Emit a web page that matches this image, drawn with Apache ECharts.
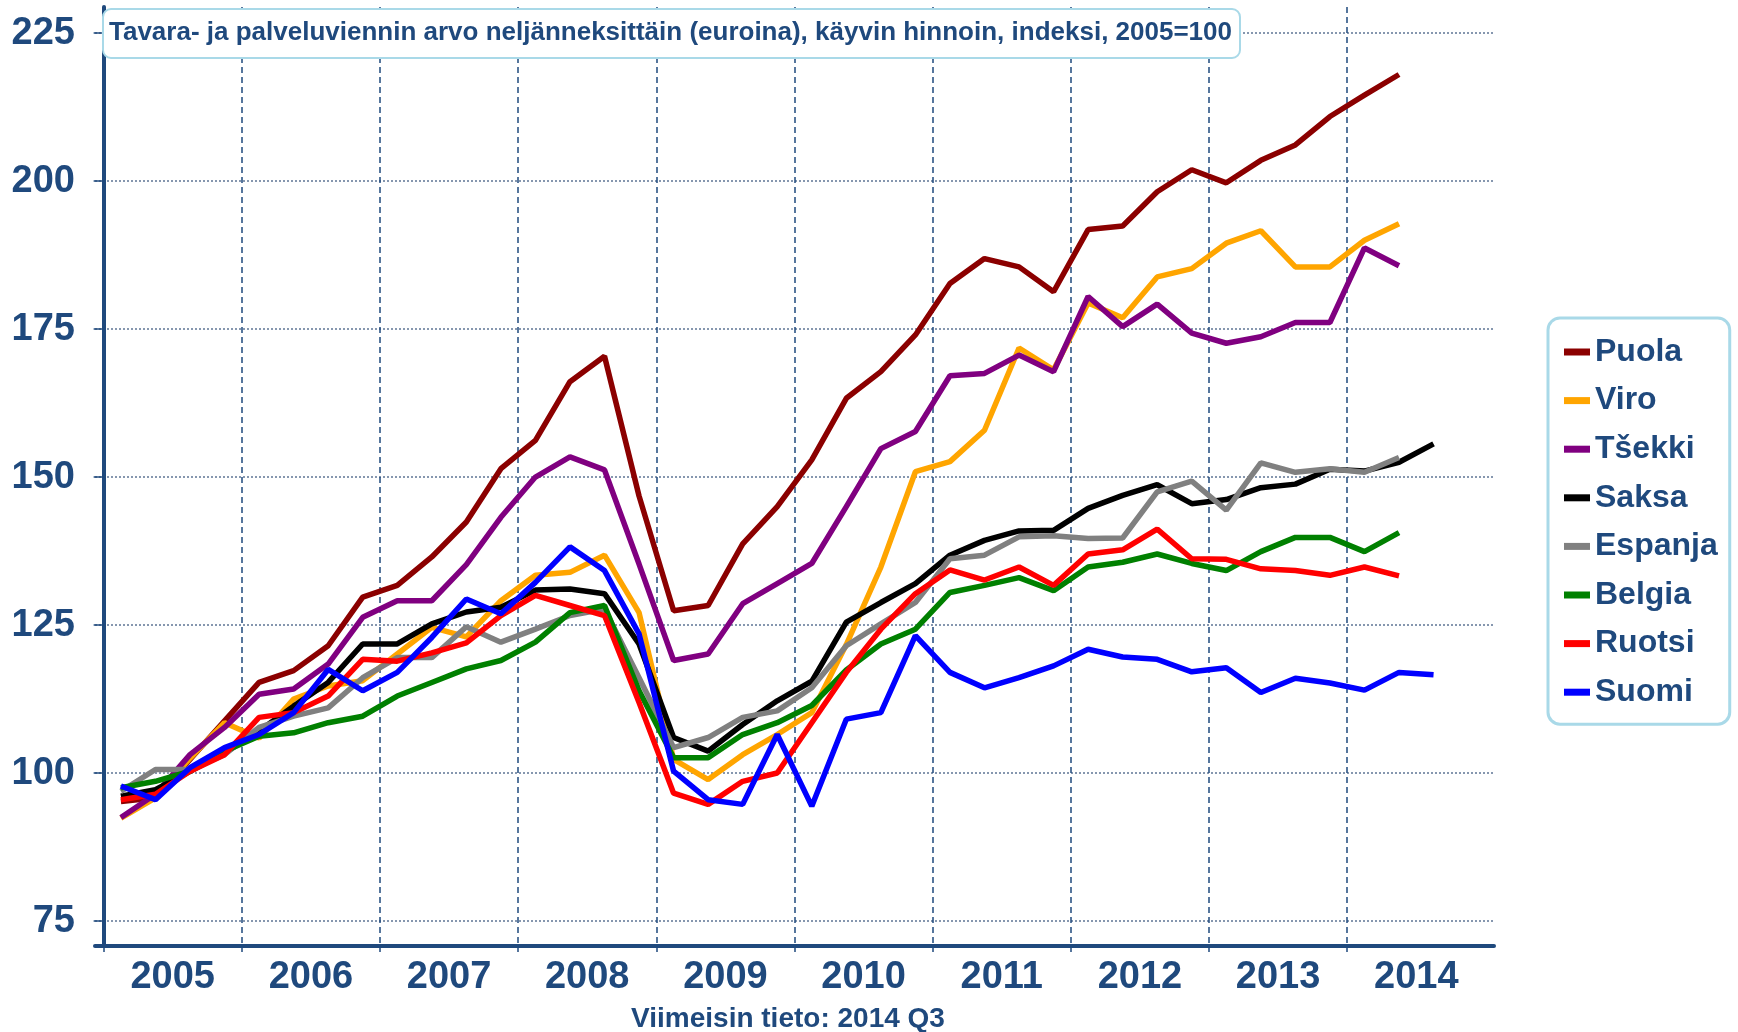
<!DOCTYPE html>
<html>
<head>
<meta charset="utf-8">
<script src="https://cdn.jsdelivr.net/npm/echarts@6/dist/echarts.min.js"></script>
<style>
	html, body {margin: 0; padding: 0; background: #fff}
	#chart {width: 1738px; height: 1032px}
</style>
</head>
<body>
<div id="chart"></div>
<script>
//vuodet ja y-akselin arvot
var years = ['2005', '2006', '2007', '2008', '2009', '2010', '2011', '2012', '2013', '2014']
var yTicks = [75, 100, 125, 150, 175, 200, 225]

var names = ['Puola', 'Viro', 'Tšekki', 'Saksa', 'Espanja', 'Belgia', 'Ruotsi', 'Suomi']
var colors = ['#8b0000', '#ffa500', '#800080', '#000000', '#808080', '#008000', '#ff0000', '#0000ff']

//neljännesarvot 2005Q1 alkaen
var puola = [95.2, 95.8, 102.3, 108.8, 115.3, 117.3, 121.5, 129.7, 131.7, 136.5, 142.4, 151.4, 156.2, 166.1, 170.4, 146.8, 127.4, 128.3, 138.7, 145.0,
	152.9, 163.3, 167.8, 174.0, 182.7, 186.9, 185.5, 181.3, 191.8, 192.4, 198.2, 201.9, 199.7, 203.5, 206.1, 210.9, 214.5, 218.0]
var viro = [92.4, 95.8, 102.5, 108.5, 105.9, 112.5, 114.7, 115.6, 120.1, 124.6, 123.0, 129.1, 133.4, 133.9, 136.8, 127.1, 102.3, 98.9, 103.1, 106.5,
	110.2, 121.7, 134.8, 150.9, 152.6, 157.9, 171.8, 168.1, 179.4, 176.9, 183.8, 185.2, 189.5, 191.6, 185.5, 185.5, 190.0, 192.8]
var tsekki = [92.5, 96.4, 103.1, 107.7, 113.3, 114.2, 118.4, 126.3, 129.1, 129.1, 135.2, 143.2, 150.0, 153.4, 151.2, 135.3, 119.0, 120.1, 128.6, 132.0,
	135.4, 145.0, 154.8, 157.7, 167.1, 167.5, 170.6, 167.8, 180.5, 175.4, 179.2, 174.3, 172.6, 173.7, 176.1, 176.1, 188.7, 185.7]
var saksa = [96.1, 97.2, 100.3, 103.4, 107.1, 111.3, 115.3, 121.8, 121.8, 125.2, 127.2, 128.0, 130.9, 131.1, 130.3, 121.8, 106.0, 103.7, 108.2, 112.2,
	115.5, 125.5, 128.8, 132.0, 136.8, 139.3, 140.9, 141.0, 144.7, 146.9, 148.7, 145.5, 146.2, 148.2, 148.8, 151.3, 151.0, 152.5, 155.6]
var espanja = [96.9, 100.6, 100.6, 103.1, 107.7, 109.6, 111.0, 116.1, 119.5, 119.5, 124.7, 122.1, 124.3, 126.6, 127.7, 116.1, 104.3, 106.0, 109.4, 110.5,
	114.4, 121.5, 125.2, 128.8, 136.2, 136.8, 139.9, 140.1, 139.6, 139.7, 147.5, 149.3, 144.4, 152.4, 150.8, 151.4, 150.8, 153.3]
var belgia = [97.5, 98.6, 100.3, 103.7, 106.2, 106.8, 108.5, 109.6, 113.0, 115.3, 117.6, 119.0, 122.1, 127.1, 128.3, 113.9, 102.6, 102.6, 106.5, 108.5,
	111.4, 117.4, 121.8, 124.3, 130.5, 131.7, 133.0, 130.8, 134.8, 135.6, 137.0, 135.4, 134.2, 137.4, 139.8, 139.8, 137.4, 140.6]
var ruotsi = [95.5, 96.4, 100.3, 103.1, 109.4, 110.2, 113.0, 119.2, 118.9, 120.3, 122.0, 126.6, 130.0, 128.3, 126.6, 111.9, 96.6, 94.7, 98.6, 100.0,
	108.5, 117.0, 124.3, 130.3, 134.3, 132.6, 134.8, 131.7, 137.0, 137.7, 141.2, 136.2, 136.1, 134.5, 134.2, 133.4, 134.8, 133.3]
var suomi = [97.8, 95.5, 100.9, 104.3, 106.5, 110.2, 117.5, 113.9, 117.0, 122.9, 129.4, 126.9, 132.2, 138.2, 134.2, 123.5, 100.3, 95.5, 94.7, 106.5,
	94.4, 109.1, 110.2, 123.2, 117.0, 114.4, 116.1, 118.1, 120.9, 119.6, 119.2, 117.1, 117.8, 113.6, 116.0, 115.2, 114.0, 117.0, 116.6]

var values = [puola, viro, tsekki, saksa, espanja, belgia, ruotsi, suomi]

var textColor = '#1f497d'
var fontFamily = '"Liberation Sans", Arial, sans-serif'

//neljännes x: vuoden alku = 4*k, piste neljänneksen keskellä
function toPoints(list) {
	var result = []
	for (var x = 0; x < list.length; x++) {
		result.push([x + 0.5, list[x]])
	}
	return result
}

var yearStarts = years.map(function(y, k) { return k * 4 })
var yearMids = years.map(function(y, k) { return k * 4 + 2 })

var series = []
for (var x = 0; x < names.length; x++) {
	series.push({
		name: names[x],
		type: 'line',
		data: toPoints(values[x]),
		symbol: 'none',
		lineStyle: {color: colors[x], width: 5.5},
		itemStyle: {color: colors[x]}
	})
}

var chart = echarts.init(document.getElementById('chart'))
chart.setOption({
	animation: false,
	backgroundColor: '#fff',
	title: [{
		text: 'Tavara- ja palveluviennin arvo neljänneksittäin (euroina), käyvin hinnoin, indeksi, 2005=100',
		left: 103,
		top: 9,
		padding: [9, 8, 10, 6],
		backgroundColor: '#fff',
		borderColor: '#a9d9e8',
		borderWidth: 2,
		borderRadius: 8,
		textStyle: {color: textColor, fontFamily: fontFamily, fontWeight: 'bold', fontSize: 26, lineHeight: 30}
	}, {
		text: 'Viimeisin tieto: 2014 Q3',
		left: 788,
		top: 1003,
		textAlign: 'center',
		padding: 0,
		textStyle: {color: textColor, fontFamily: fontFamily, fontWeight: 'bold', fontSize: 28, lineHeight: 32}
	}],
	legend: {
		orient: 'vertical',
		left: 1548,
		top: 318,
		padding: [16, 12, 14, 16],
		itemGap: 12.6,
		itemWidth: 26,
		itemHeight: 7,
		icon: 'rect',
		borderColor: '#a9d9e8',
		borderWidth: 3,
		borderRadius: 12,
		backgroundColor: '#fff',
		data: names,
		textStyle: {color: textColor, fontFamily: fontFamily, fontWeight: 'bold', fontSize: 32, lineHeight: 36}
	},
	grid: {left: 95, right: 244, top: 7, bottom: 86, containLabel: false},
	xAxis: {
		type: 'value',
		min: -0.25,
		max: 40.25,
		axisLine: {show: true, lineStyle: {color: textColor, width: 4}},
		axisTick: {show: true, customValues: yearStarts, length: 6, lineStyle: {color: textColor, width: 1.5}},
		splitLine: {show: true, lineStyle: {color: textColor, width: 1.5, type: [6, 4]}},
		axisLabel: {
			customValues: yearMids,
			margin: 13,
			color: textColor,
			fontFamily: fontFamily,
			fontWeight: 'bold',
			fontSize: 38,
			formatter: function(v) { return years[Math.round((v - 2) / 4)] }
		}
	},
	yAxis: {
		type: 'value',
		min: 70.78,
		max: 229.4,
		axisLine: {show: true, lineStyle: {color: textColor, width: 4}},
		axisTick: {show: true, customValues: yTicks, length: 10, lineStyle: {color: textColor, width: 1.5}},
		splitLine: {show: true, lineStyle: {color: '#5f7595', width: 1.5, type: [2, 2]}},
		axisLabel: {
			customValues: yTicks,
			margin: 20,
			color: textColor,
			fontFamily: fontFamily,
			fontWeight: 'bold',
			fontSize: 38
		}
	},
	series: series
})
</script>
</body>
</html>
